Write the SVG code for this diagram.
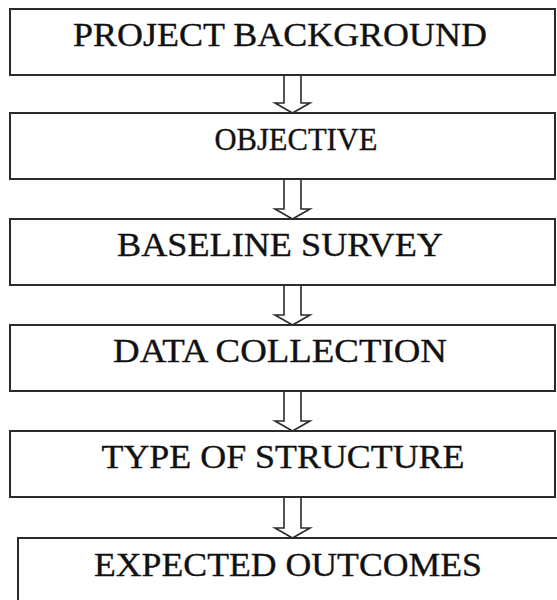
<svg xmlns="http://www.w3.org/2000/svg" width="557" height="600" viewBox="0 0 557 600">
<style>
.box{fill:#fff;stroke:#2b2b2b;stroke-width:2}
.lbl{font-family:"Liberation Serif","Times New Roman",serif;font-size:33px;fill:#111;stroke:#111;stroke-width:0.35;text-anchor:middle}
.arr{fill:#fff;stroke:#2b2b2b;stroke-width:1.6;stroke-linejoin:miter}
</style>
<rect width="557" height="600" fill="#fff"/>
<g id="connectors">
<path class="arr" d="M284,75 V103 H275 L292.5,113 L310,103 H301 V75"/>
<path class="arr" d="M284,179 V209 H275 L292.5,219 L310,209 H301 V179"/>
<path class="arr" d="M284,285 V315 H275 L292.5,325 L310,315 H301 V285"/>
<path class="arr" d="M284,391 V421 H275 L292.5,431 L310,421 H301 V391"/>
<path class="arr" d="M284,497 V528 H275 L292.5,538 L310,528 H301 V497"/>
</g>
<g id="n1"><rect class="box" x="10" y="9" width="545" height="66"/><text class="lbl" x="280" y="46" textLength="414" lengthAdjust="spacingAndGlyphs">PROJECT BACKGROUND</text></g>
<g id="n2"><rect class="box" x="10" y="113" width="545" height="66"/><text class="lbl" x="296" y="150" style="font-size:31px" textLength="163" lengthAdjust="spacingAndGlyphs">OBJECTIVE</text></g>
<g id="n3"><rect class="box" x="10" y="219" width="545" height="66"/><text class="lbl" x="280" y="256" textLength="326" lengthAdjust="spacingAndGlyphs">BASELINE SURVEY</text></g>
<g id="n4"><rect class="box" x="10" y="325" width="545" height="66"/><text class="lbl" x="280" y="362" textLength="334" lengthAdjust="spacingAndGlyphs">DATA COLLECTION</text></g>
<g id="n5"><rect class="box" x="10" y="431" width="545" height="66"/><text class="lbl" x="283" y="468" textLength="363" lengthAdjust="spacingAndGlyphs">TYPE OF STRUCTURE</text></g>
<g id="n6"><rect class="box" x="18" y="538" width="560" height="80"/><text class="lbl" x="288" y="576" textLength="388" lengthAdjust="spacingAndGlyphs">EXPECTED OUTCOMES</text></g>
</svg>
